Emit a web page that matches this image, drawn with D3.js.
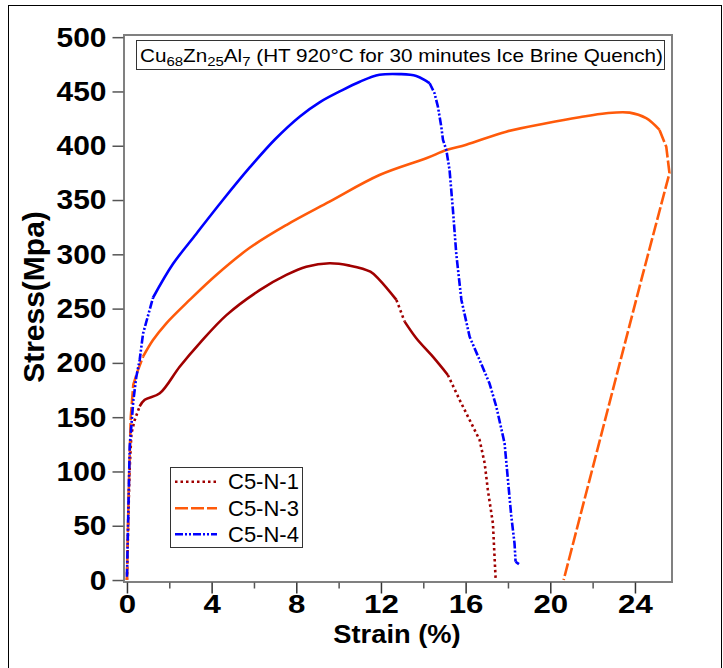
<!DOCTYPE html>
<html><head><meta charset="utf-8">
<script src="https://cdn.jsdelivr.net/npm/d3@7"></script>
<style>body{margin:0;background:#fff}svg{display:block}</style>
</head><body>
<svg id="c" width="723" height="668"></svg>
<script>
// ---- data ----
const seriesNames = ["C5-N-1", "C5-N-3", "C5-N-4"];
const seriesColors = ["#A00000", "#FF5A0A", "#0000FF"];
const c5n1Strain = [0, 0.05, 0.12, 0.21, 0.36, 0.6, 0.84, 1.55, 2.49, 3.43, 4.7, 6.27, 7.53, 8.47, 9.57, 10.52, 11.5, 11.93, 12.73, 13.12, 13.67, 14.45, 15.16, 15.72, 16.19, 16.66, 16.9, 17.05, 17.29, 17.42];
const c5n1Stress = [0, 45, 100, 135, 147, 160, 166, 172, 196.5, 218, 244, 267, 281, 288.6, 291.8, 289.6, 284, 276.4, 258, 238, 222.7, 205.7, 188.9, 165.8, 147.4, 129, 107.5, 83, 52, 0];
const c5n3Strain = [0, 0.08, 0.18, 0.3, 0.52, 0.76, 1.23, 1.86, 2.96, 4.22, 5.8, 7.53, 9.57, 11.93, 14.14, 15.09, 16.03, 17.92, 19.81, 21.38, 22.64, 23.75, 24.53, 25.16, 25.48, 25.63, 24.3, 20.63];
const c5n3Stress = [0, 80, 150, 180, 193.5, 205.7, 221, 236.5, 258, 281, 306, 327, 348.5, 373, 388.5, 396, 401, 413, 420.7, 426.3, 430, 430.5, 425.4, 414.6, 399, 374.7, 276.4, 0];
const c5n4Strain = [0, 0.05, 0.13, 0.3, 0.44, 0.6, 0.76, 1.23, 2.17, 3.28, 4.53, 5.8, 7.0, 8.17, 9.1, 10.05, 11.0, 11.93, 12.87, 13.67, 14.3, 14.53, 14.69, 14.85, 14.93, 15.09, 15.24, 15.4, 15.56, 15.8, 16.19, 16.66, 17.13, 17.45, 17.84, 18.0, 18.16, 18.31, 18.36, 18.52];
const c5n4Stress = [3, 50, 122.8, 165, 187, 202.7, 227, 260, 291, 319, 350, 380, 406, 427, 440, 450, 459, 465.3, 466, 464.3, 457.6, 448.4, 436, 417.6, 405.4, 396, 377.7, 341, 300, 258, 224, 202.7, 181, 159.7, 126, 92, 58.3, 33.8, 16.9, 14.7];
const xTickMajor = [0, 4, 8, 12, 16, 20, 24];
const xTickMinor = [2, 6, 10, 14, 18, 22];
const yTicks = [0, 50, 100, 150, 200, 250, 300, 350, 400, 450, 500];

const series = [
  {name: seriesNames[0], color: seriesColors[0], xs: c5n1Strain, ys: c5n1Stress, dash: "2.5,3"},
  {name: seriesNames[1], color: seriesColors[1], xs: c5n3Strain, ys: c5n3Stress, dash: "13,3"},
  {name: seriesNames[2], color: seriesColors[2], xs: c5n4Strain, ys: c5n4Stress, dash: "8,2,2,2,2,2"}
];

// ---- layout ----
const L = 124, R = 672, T = 35, B = 582;
const svg = d3.select("#c");
const x = d3.scaleLinear().domain([-0.14, 25.75]).range([L, R]);
const y = d3.scaleLinear().domain([-1.8, 502]).range([B, T]);
const font = "Arial, 'Liberation Sans', sans-serif";

// outer border
svg.append("rect").attr("x", 8.5).attr("y", 5.5).attr("width", 713).attr("height", 700)
  .attr("fill", "none").attr("stroke", "#000").attr("stroke-width", 1);

// curves
const line = d3.line().x(d => x(d[0])).y(d => y(d[1])).curve(d3.curveCatmullRom.alpha(0.5));
const lineLin = d3.line().x(d => x(d[0])).y(d => y(d[1]));
series.forEach(s => {
  const pts = s.xs.map((v, i) => [v, s.ys[i]]);
  // steep segments drawn with the series dash pattern, shallow ones solid
  let runs = [];
  for (let i = 0; i < pts.length - 1; i++) {
    const dx = Math.abs(x(pts[i + 1][0]) - x(pts[i][0]));
    const dy = Math.abs(y(pts[i + 1][1]) - y(pts[i][1]));
    const steep = dy > 1.8 * dx;
    const last = runs[runs.length - 1];
    if (last && last.steep === steep) last.pts.push(pts[i + 1]);
    else runs.push({steep, pts: [pts[i], pts[i + 1]]});
  }
  runs.forEach(r => {
    svg.append("path").attr("d", (r.steep ? lineLin : line)(r.pts)).attr("fill", "none")
      .attr("stroke", s.color).attr("stroke-width", 2.6)
      .attr("stroke-linejoin", "round")
      .attr("stroke-dasharray", r.steep ? s.dash : null);
  });
});

// frame
svg.append("rect").attr("x", L).attr("y", T).attr("width", R - L).attr("height", B - T)
  .attr("fill", "none").attr("stroke", "#808080").attr("stroke-width", 2);

// y axis
const yAx = svg.append("g").attr("transform", `translate(${L - 0.5},0)`)
  .call(d3.axisLeft(y).tickValues(yTicks).tickSize(11).tickPadding(6));
yAx.select(".domain").remove();
yAx.selectAll(".tick line").attr("stroke", "#555").attr("stroke-width", 1.5);
yAx.selectAll(".tick text").attr("font-family", font).attr("font-weight", "bold")
  .attr("font-size", 28).attr("fill", "#000")
  .attr("transform", "translate(-17,0) scale(1.07,1) translate(17,0)");

// x axis
const xAx = svg.append("g").attr("transform", `translate(0,${B + 0.5})`)
  .call(d3.axisBottom(x).tickValues(xTickMajor).tickSize(11).tickPadding(1));
xAx.select(".domain").remove();
xAx.selectAll(".tick line").attr("stroke", "#333").attr("stroke-width", 1.5);
xAx.selectAll(".tick text").attr("font-family", font).attr("font-weight", "bold")
  .attr("font-size", 26).attr("fill", "#000").attr("transform", "scale(1.2,1)");
const xMin = svg.append("g").attr("transform", `translate(0,${B + 0.5})`)
  .call(d3.axisBottom(x).tickValues(xTickMinor).tickSize(6).tickFormat(""));
xMin.select(".domain").remove();
xMin.selectAll(".tick line").attr("stroke", "#555").attr("stroke-width", 1.5);

// axis titles
svg.append("text").attr("x", 397).attr("y", 643).attr("text-anchor", "middle")
  .attr("font-family", font).attr("font-weight", "bold").attr("font-size", 26)
  .attr("transform", "translate(397,0) scale(1.05,1) translate(-397,0)")
  .text("Strain (%)");
svg.append("text").attr("transform", "translate(44,297) rotate(-90)").attr("text-anchor", "middle")
  .attr("font-family", font).attr("font-weight", "bold").attr("font-size", 30)
  .text("Stress(Mpa)");

// title box
svg.append("rect").attr("x", 136.5).attr("y", 40.5).attr("width", 528).attr("height", 29)
  .attr("fill", "#fff").attr("stroke", "#333").attr("stroke-width", 1);
const tt = svg.append("text").attr("x", 140).attr("y", 62).attr("font-family", font)
  .attr("font-size", 18).attr("fill", "#000")
  .attr("transform", "translate(140,0) scale(1.15,1) translate(-140,0)");
tt.append("tspan").text("Cu");
tt.append("tspan").attr("font-size", 13).attr("dy", 4).text("68");
tt.append("tspan").attr("dy", -4).text("Zn");
tt.append("tspan").attr("font-size", 13).attr("dy", 4).text("25");
tt.append("tspan").attr("dy", -4).text("Al");
tt.append("tspan").attr("font-size", 13).attr("dy", 4).text("7");
tt.append("tspan").attr("dy", -4).text(" (HT 920°C for 30 minutes Ice Brine Quench)");

// legend
svg.append("rect").attr("x", 170.5).attr("y", 467.5).attr("width", 132).attr("height", 80)
  .attr("fill", "#fff").attr("stroke", "#333").attr("stroke-width", 1);
const legY = [481.7, 508.3, 534.3];
series.forEach((s, i) => {
  svg.append("line").attr("x1", 175).attr("x2", 217).attr("y1", legY[i]).attr("y2", legY[i])
    .attr("stroke", s.color).attr("stroke-width", 2.6).attr("stroke-dasharray", s.dash);
  svg.append("text").attr("x", 228).attr("y", legY[i] + 7.5).attr("font-family", font)
    .attr("font-size", 22).attr("fill", "#000").text(s.name);
});
</script>
</body></html>
